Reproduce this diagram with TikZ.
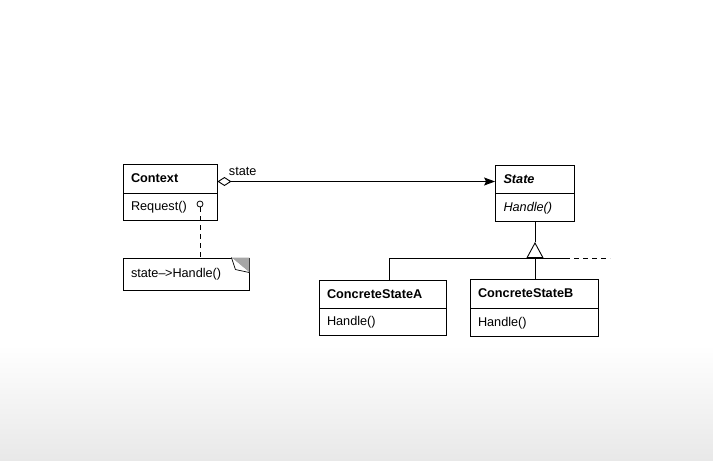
\documentclass[tikz,border=0pt]{standalone}
\usepackage{fontspec}
\setmainfont{Liberation Sans}
\usetikzlibrary{positioning, arrows.meta}

\begin{document}
\begin{tikzpicture}[
    x=1pt, y=-1pt,
    line width=0.9pt,
    font=\fontsize{12.7}{14}\selectfont,
    node distance=0pt, % boxes stacked edge to edge
    % --- UML STYLES ---
    head/.style={rectangle, draw, fill=white, minimum height=28pt, text width=#1, inner xsep=8pt, align=left, font=\fontsize{12.7}{14}\selectfont\bfseries},
    body/.style={head=#1, font=\fontsize{12.7}{14}\selectfont}, % Operations part
    note/.style={rectangle, draw, fill=white, minimum height=32pt, text width=#1, inner xsep=8pt, align=left},
    >=Stealth
]

% --- 0. CANVAS ---
\useasboundingbox (0,0) rectangle (713,461);
\fill[white] (0,0) rectangle (713,461);
\shade[top color=white, bottom color=black!9] (0,345) rectangle (713,461);

% --- 1. CONTEXT ---
\node (ctx) [head=78pt, minimum height=29pt] at (170,178.5) {Context};
\node (ctx_ops) [body=78pt, minimum height=27pt, below=of ctx] {Request()};
\node (dot) [circle, draw, inner sep=0pt, minimum size=6pt, line width=0.8pt] at (200,204) {};
\node (memo) [note=110pt] at (186,274) {state\textendash\kern-0.5pt>Handle()};

% --- 2. ABSTRACT STATE ---
\node (state) [head=63pt, font=\fontsize{12.7}{14}\selectfont\bfseries\itshape] at (535,179) {State};
\node (state_ops) [body=63pt, font=\fontsize{12.7}{14}\selectfont\itshape, below=of state] {Handle()};

% --- 3. CONCRETE STATES ---
\node (csa) [head=111pt] at (382.5,294) {ConcreteStateA};
\node (csa_ops) [body=111pt, minimum height=27pt, below=of csa] {Handle()};
\node (csb) [head=112pt, minimum height=29pt] at (534,293.5) {ConcreteStateB};
\node (csb_ops) [body=112pt, below=of csb] {Handle()};

% --- FLOWS ---

% 1. Aggregation Context -> State
\draw [{Diamond[fill=white, length=14pt, width=9pt]}-{Stealth[length=11pt, width=8pt, inset=2pt]}]
    ([yshift=-3pt]ctx.east) -- ([yshift=-3pt]ctx.east -| state.west)
    node[pos=0, above right, xshift=9pt, yshift=3pt, inner sep=2pt] {state};

% 2. Note attached to Request()
\draw [dash pattern=on 5pt off 4pt] (dot.south) -- (dot.south |- memo.north);
\fill [black!35] ([xshift=-18pt]memo.north east) -- (memo.north east) -- ([yshift=-15pt]memo.north east) -- cycle;
\draw [fill=white, line width=0.7pt] ([xshift=-18pt]memo.north east) -- ([xshift=-14pt, yshift=-12pt]memo.north east) -- ([yshift=-15pt]memo.north east);

% 3. Inheritance tree
\coordinate (apex) at (535,242);
\coordinate (base) at (535,258);
\coordinate (busA) at (389,258);
\coordinate (busB) at (565,258);
\coordinate (busEnd) at (610,258);
\draw (state_ops.south) -- (apex);
\draw [-{Triangle[open, length=16pt, width=17pt]}] (base) -- (apex);
\draw (busA) -- (busB);
\draw [dash pattern=on 5pt off 4pt] (busB) -- (busEnd);
\draw (busA) -- (busA |- csa.north);
\draw (base) -- (base |- csb.north);

\end{tikzpicture}
\end{document}
